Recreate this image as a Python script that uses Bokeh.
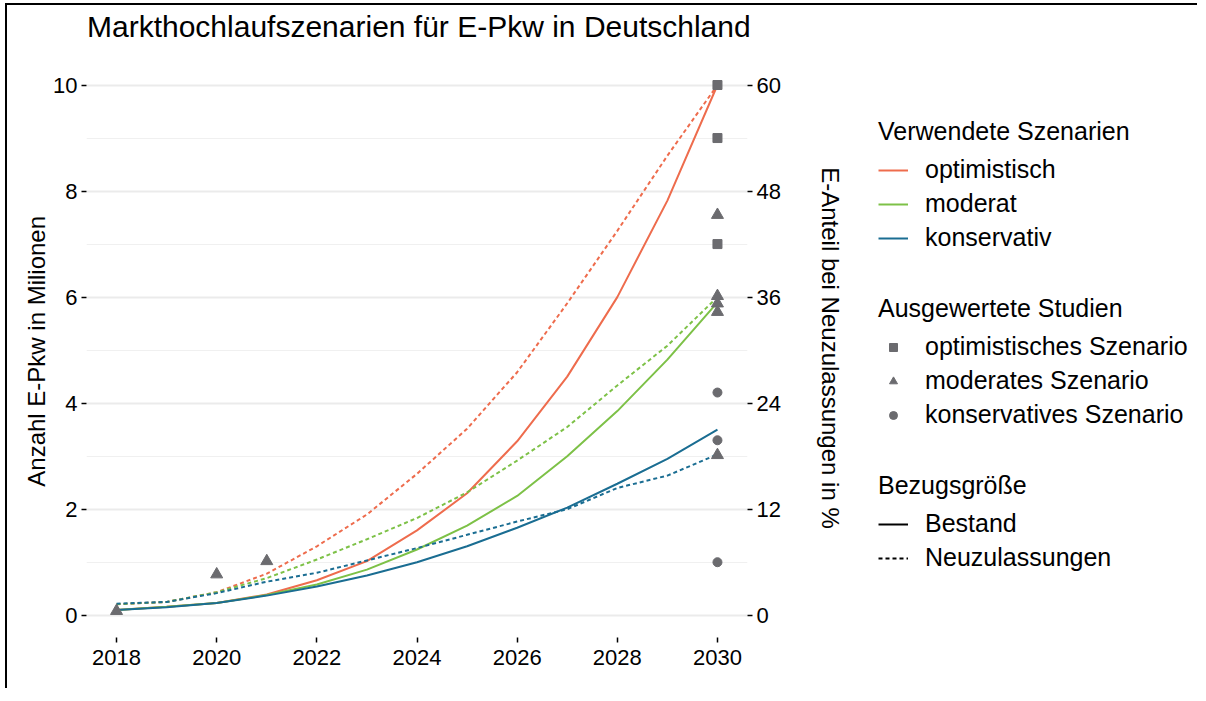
from bokeh.plotting import figure
from bokeh.models import Range1d, LinearAxis, Legend, LegendItem, FixedTicker, SingleIntervalTicker, Div
from bokeh.layouts import row, column
from bokeh.embed import file_html
from bokeh.resources import INLINE

# ---------------- data ----------------
years = [2018, 2019, 2020, 2021, 2022, 2023, 2024, 2025, 2026, 2027, 2028, 2029, 2030]

# Bestand (Mio. E-Pkw), left axis
bestand_opt = [0.10, 0.16, 0.23, 0.39, 0.66, 1.02, 1.60, 2.30, 3.28, 4.50, 6.00, 7.82, 10.0]
bestand_mod = [0.10, 0.16, 0.23, 0.38, 0.58, 0.86, 1.24, 1.69, 2.25, 3.00, 3.85, 4.82, 5.90]
bestand_kons = [0.10, 0.15, 0.23, 0.37, 0.54, 0.75, 1.00, 1.30, 1.65, 2.03, 2.48, 2.95, 3.50]

# Neuzulassungen (E-Anteil in %), right axis
nz_opt = [1.25, 1.5, 2.6, 4.7, 7.8, 11.4, 16.0, 21.1, 27.5, 35.3, 43.5, 52.0, 60.0]
nz_mod = [1.25, 1.5, 2.6, 4.2, 6.3, 8.6, 11.0, 13.9, 17.5, 21.3, 26.0, 30.5, 36.0]
nz_kons = [1.3, 1.5, 2.5, 3.8, 4.8, 6.2, 7.6, 9.1, 10.6, 12.0, 14.4, 15.8, 18.2]

# Ausgewertete Studien (Mio. E-Pkw)
studie_opt_x = [2030, 2030, 2030]
studie_opt_y = [10.0, 9.0, 7.0]
studie_mod_x = [2018, 2020, 2021, 2030, 2030, 2030, 2030, 2030]
studie_mod_y = [0.08, 0.77, 1.02, 7.55, 6.02, 5.88, 5.72, 3.02]
studie_kons_x = [2030, 2030, 2030]
studie_kons_y = [4.2, 3.3, 1.0]

x_ticks = [2018, 2020, 2022, 2024, 2026, 2028, 2030]
pct_ticks = [0, 12, 24, 36, 48, 60]

title_text = "Markthochlaufszenarien für E-Pkw in Deutschland"
left_label = "Anzahl  E-Pkw in Milionen"
right_label = "E-Anteil bei Neuzulassungen in %"

# ---------------- style ----------------
FONT = "Liberation Sans"
C_OPT = "#EE6C4D"
C_MOD = "#7DC147"
C_KONS = "#1A6D92"
C_PT = "#6B6B6F"
DASH = "4 3"

TITLE_H = 44
H = 683 - TITLE_H

title_div = Div(text=('<div style="margin-left:80px; font-family:\'Liberation Sans\'; '
                      'font-size:30px; line-height:%dpx; color:black; white-space:nowrap;">%s</div>'
                      % (TITLE_H, title_text)),
                width=1190, height=TITLE_H, margin=0)

p = figure(width=845, height=H,
           x_range=Range1d(2017.4, 2030.6), y_range=Range1d(-0.42, 10.5),
           toolbar_location=None, output_backend="svg",
           min_border_left=79, min_border_right=105,
           min_border_top=53 - TITLE_H, min_border_bottom=51)
p.outline_line_color = None
p.extra_y_ranges = {"pct": Range1d(-0.42 * 6, 10.5 * 6)}

# lines
p.line(years, bestand_opt, line_color=C_OPT, line_width=2)
p.line(years, bestand_mod, line_color=C_MOD, line_width=2)
p.line(years, bestand_kons, line_color=C_KONS, line_width=2)
p.line(years, nz_opt, line_color=C_OPT, line_width=2, line_dash=DASH, y_range_name="pct")
p.line(years, nz_mod, line_color=C_MOD, line_width=2, line_dash=DASH, y_range_name="pct")
p.line(years, nz_kons, line_color=C_KONS, line_width=2, line_dash=DASH, y_range_name="pct")

# points
p.scatter(studie_opt_x, studie_opt_y, marker="square", size=9, color=C_PT)
p.scatter(studie_mod_x, studie_mod_y, marker="triangle", size=12, color=C_PT)
p.scatter(studie_kons_x, studie_kons_y, marker="circle", size=9, color=C_PT)

# axes
p.xaxis.ticker = FixedTicker(ticks=x_ticks)
p.yaxis.ticker = SingleIntervalTicker(interval=2, num_minor_ticks=2)
p.yaxis.axis_label = left_label

right_axis = LinearAxis(y_range_name="pct", ticker=FixedTicker(ticks=pct_ticks),
                        axis_label=right_label)
p.add_layout(right_axis, "right")

for ax in [p.xaxis[0], p.yaxis[0], right_axis]:
    ax.axis_line_color = None
    ax.major_tick_line_color = "black"
    ax.major_tick_line_width = 1.5
    ax.major_tick_out = 5
    ax.major_tick_in = 0
    ax.minor_tick_line_color = None
    ax.major_label_text_font = FONT
    ax.major_label_text_font_size = "22px"
    ax.major_label_text_color = "black"
    ax.major_label_standoff = 4
    ax.axis_label_text_font = FONT
    ax.axis_label_text_font_size = "24px"
    ax.axis_label_text_font_style = "normal"
    ax.axis_label_text_color = "black"
p.yaxis[0].axis_label_standoff = 0
right_axis.axis_label_standoff = 33
p.xaxis[0].major_label_standoff = 7

p.xgrid.grid_line_color = None
p.ygrid.grid_line_color = "#EBEBEB"
p.ygrid.grid_line_width = 2
p.ygrid.minor_grid_line_color = "#F0F0F0"
p.ygrid.minor_grid_line_width = 1

# ---------------- legend panel ----------------
p2 = figure(width=345, height=H, x_range=Range1d(0, 1), y_range=Range1d(0, 1),
            toolbar_location=None, output_backend="svg", min_border=0)
p2.axis.visible = False
p2.grid.grid_line_color = None
p2.outline_line_color = None

off = [-10, -9]  # dummy data outside the visible range, only for legend glyphs
r_opt = p2.line(off, off, line_color=C_OPT, line_width=2)
r_mod = p2.line(off, off, line_color=C_MOD, line_width=2)
r_kons = p2.line(off, off, line_color=C_KONS, line_width=2)
r_sq = p2.scatter(off, off, marker="square", size=9, color=C_PT)
r_tri = p2.scatter(off, off, marker="triangle", size=9, color=C_PT)
r_cir = p2.scatter(off, off, marker="circle", size=9, color=C_PT)
r_best = p2.line(off, off, line_color="black", line_width=2)
r_nz = p2.line(off, off, line_color="black", line_width=2, line_dash=DASH)


def make_legend(title, items, loc):
    lg = Legend(title=title, items=[LegendItem(label=l, renderers=[r]) for l, r in items],
                location=loc, padding=0, margin=0, spacing=5,
                glyph_width=30, glyph_height=20, label_standoff=17,
                title_standoff=9, border_line_color=None, background_fill_alpha=0)
    lg.title_text_font = FONT
    lg.title_text_font_size = "25px"
    lg.title_text_font_style = "normal"
    lg.title_text_color = "black"
    lg.label_text_font = FONT
    lg.label_text_font_size = "25px"
    lg.label_text_color = "black"
    lg.label_text_baseline = "middle"
    p2.add_layout(lg, "center")
    return lg


make_legend("Verwendete Szenarien",
            [("optimistisch", r_opt), ("moderat", r_mod), ("konservativ", r_kons)], (26, 385))
make_legend("Ausgewertete Studien",
            [("optimistisches Szenario", r_sq), ("moderates Szenario", r_tri),
             ("konservatives Szenario", r_cir)], (26, 208))
make_legend("Bezugsgröße", [("Bestand", r_best), ("Neuzulassungen", r_nz)], (26, 65))

layout = column(title_div, row(p, p2),
                styles={"border-left": "2px solid black", "border-top": "2px solid black",
                        "margin-left": "5px", "margin-top": "3px"})

open("out.html", "w").write(file_html(layout, INLINE))
